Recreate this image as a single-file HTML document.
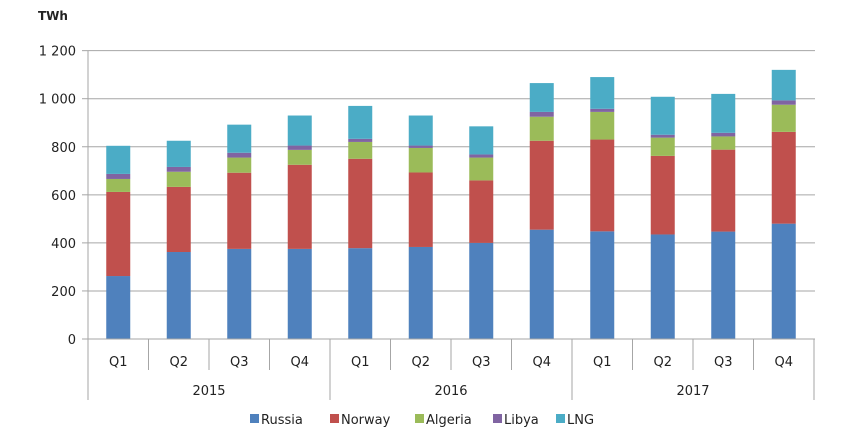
<!DOCTYPE html>
<html><head><meta charset="utf-8"><style>
body{margin:0;background:#fff;width:858px;height:433px;overflow:hidden}
svg text{font-family:"DejaVu Sans","Liberation Sans",sans-serif;fill:#222}
</style></head><body>
<svg id="s" width="858" height="433" xmlns="http://www.w3.org/2000/svg"></svg>
<script>
const s=document.getElementById('s');let h='';
const y0=339,k=0.2403,x0=88,cw=60.5;
h+='<text x="38" y="20" font-size="12" font-weight="bold">TWh</text>';
for(let i=0;i<=6;i++){const y=y0-i*200*k;
 if(i>0)h+=`<line x1="${x0}" x2="815" y1="${y}" y2="${y}" stroke="#a6a6a6" stroke-width="1"/>`;
 h+=`<line x1="${x0-6}" x2="${x0}" y1="${y}" y2="${y}" stroke="#a6a6a6"/>`;
 const l=['0','200','400','600','800','1 000','1 200'][i];
 h+=`<text x="${x0-12}" y="${y+5}" font-size="13" text-anchor="end">${l}</text>`;}
const d=[[262,612,666,687,804],[362,633,696,716,825],[375,692,755,775,892],[375,725,787,805,930],
[378,750,820,833,970],[383,693,795,805,930],[400,660,755,768,885],[455,825,925,945,1065],
[448,830,945,958,1090],[435,762,838,850,1008],[447,788,843,858,1020],[480,862,975,993,1120]];
const c=['#4f81bd','#c0504d','#9bbb59','#8064a2','#4bacc6'];
d.forEach((v,i)=>{const cx=x0+cw*i+cw/2;let p=0;
 v.forEach((t,j)=>{h+=`<rect x="${cx-12}" y="${y0-t*k}" width="24" height="${(t-p)*k}" fill="${c[j]}"/>`;p=t;});
 h+=`<text x="${cx}" y="366" font-size="13" text-anchor="middle">Q${i%4+1}</text>`;});
h+=`<line x1="${x0}" x2="815" y1="${y0}" y2="${y0}" stroke="#a6a6a6"/>`;
h+=`<line x1="${x0}" x2="${x0}" y1="51" y2="400" stroke="#a6a6a6"/>`;
for(let i=1;i<=12;i++){const x=x0+cw*i;h+=`<line x1="${x}" x2="${x}" y1="${y0}" y2="${i%4==0?400:370}" stroke="#a6a6a6"/>`;}
['2015','2016','2017'].forEach((t,i)=>h+=`<text x="${x0+cw*(4*i+2)}" y="395" font-size="13" text-anchor="middle">${t}</text>`);
[['Russia',250],['Norway',330],['Algeria',415],['Libya',493],['LNG',556]].forEach((l,i)=>{
 h+=`<rect x="${l[1]}" y="414" width="9" height="9" fill="${c[i]}"/><text x="${l[1]+11}" y="424" font-size="13">${l[0]}</text>`;});
s.innerHTML=h;
</script>
</body></html>
